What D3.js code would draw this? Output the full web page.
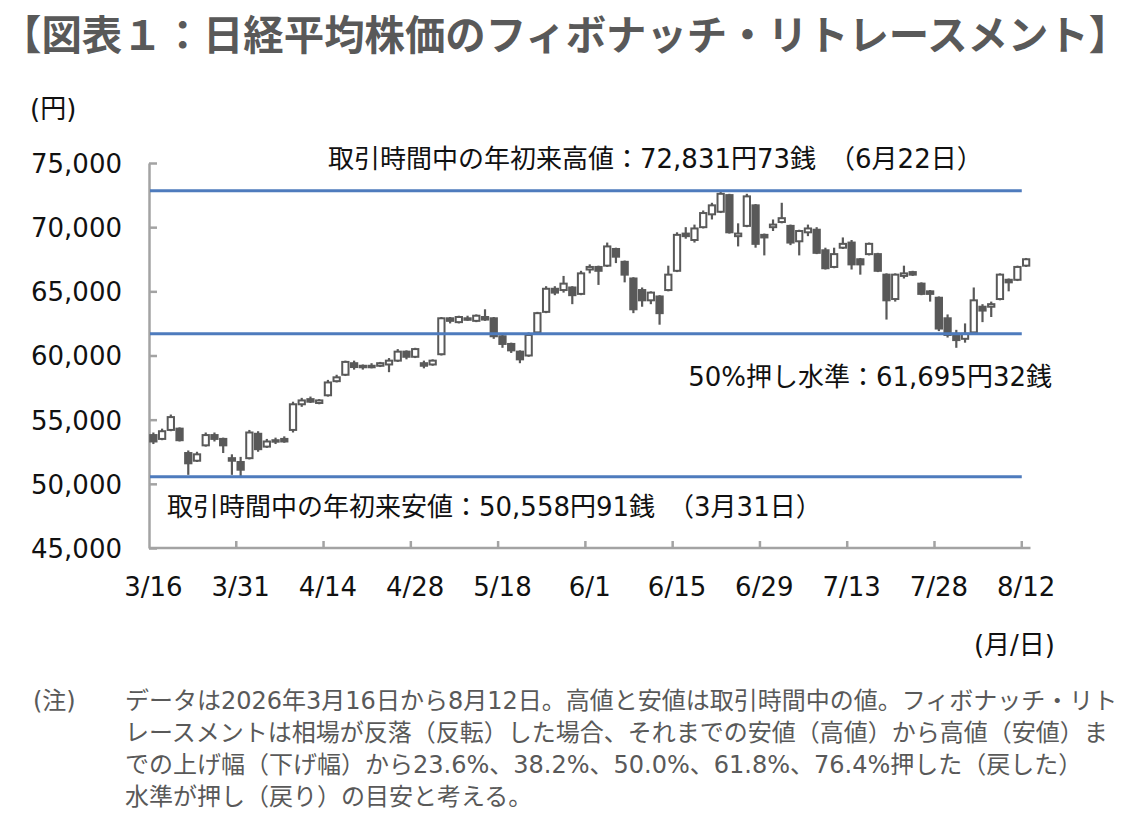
<!DOCTYPE html>
<html lang="ja">
<head>
    <meta charset="UTF-8">
    <title>日経平均株価のフィボナッチ・リトレースメント</title>
    <style>
        body {
            margin: 0;
            background: #fff;
            font-family: 'DejaVu Sans', 'Noto Sans CJK JP', sans-serif;
        }
        .axis path,
        .axis line {
            stroke: #a3a3a3;
            stroke-width: 2.5px;
        }
        .title {
            font: bold 40.4px 'Noto Sans CJK JP', sans-serif;
            fill: #595959;
        }
        .label {
            font: 26px 'DejaVu Sans', 'Noto Sans CJK JP', sans-serif;
            fill: #111;
        }
        .note {
            font: 24px 'DejaVu Sans', 'Noto Sans CJK JP', sans-serif;
            fill: #595959;
        }
    </style>
</head>
<body>
<div id="chart"></div>

<script src="https://d3js.org/d3.v7.min.js"></script>
<script>
    // 営業日（3/16〜8/12）
    const dates = [
        "3/16","3/17","3/18","3/19","3/23","3/24","3/25","3/26","3/27","3/30",
        "3/31","4/1","4/2","4/3","4/6","4/7","4/8","4/9","4/10","4/13",
        "4/14","4/15","4/16","4/17","4/20","4/21","4/22","4/23","4/24","4/27",
        "4/28","4/30","5/1","5/7","5/8","5/11","5/12","5/13","5/14","5/15",
        "5/18","5/19","5/20","5/21","5/22","5/25","5/26","5/27","5/28","5/29",
        "6/1","6/2","6/3","6/4","6/5","6/8","6/9","6/10","6/11","6/12",
        "6/15","6/16","6/17","6/18","6/19","6/22","6/23","6/24","6/25","6/26",
        "6/29","6/30","7/1","7/2","7/3","7/6","7/7","7/8","7/9","7/10",
        "7/13","7/14","7/15","7/16","7/17","7/21","7/22","7/23","7/24","7/27",
        "7/28","7/29","7/30","7/31","8/3","8/4","8/5","8/6","8/7","8/10",
        "8/12"
    ];

    const opens = [
        53800,53500,54200,54300,52400,51800,53000,53800,53500,52000,
        51700,52000,53900,52900,53300,53500,54200,56200,56600,56300,
        56900,58000,58500,59400,59100,59200,59200,59300,59600,60300,
        59900,59400,59300,60100,62900,62600,62900,62700,63000,62900,
        61500,60900,60300,60000,61800,63400,65200,65100,65300,64800,
        66700,66900,67000,68300,67300,66000,65100,64300,64600,65100,
        66600,69500,69000,70000,71000,71200,72500,69300,70100,71700,
        69400,70000,70400,70100,68900,69600,69800,68200,66900,68400,
        68800,67500,67900,67900,66300,64400,66200,66500,65600,65000,
        64500,62900,61700,61300,61800,63800,63800,64400,65900,65900,
        67000
    ];
    const highs = [
        54000,54300,55400,54400,52600,52500,54000,54000,53600,52300,
        52100,54200,54100,53500,53600,53700,56400,56700,56800,56600,
        58100,58500,59600,59600,59300,59400,59500,59800,60500,60400,
        60600,59600,59700,63000,63000,63100,63100,63200,63600,63000,
        61700,61000,60400,61800,63400,65400,65400,66200,65400,66600,
        67100,67000,68800,68400,67400,66100,65300,65000,64700,67000,
        69600,70000,70200,71300,71900,72831.73,72600,70300,72600,71800,
        69500,70600,71900,70200,69800,70200,70000,68400,68400,69200,
        69000,67600,68800,68000,66400,66400,67000,66600,65700,65100,
        64600,63200,62000,62500,65300,64000,64200,66400,66000,67000,
        67600
    ];
    const lows = [
        53100,53400,54100,53300,50700,51700,52900,53300,52400,50700,
        50558.91,51900,52500,52800,53100,53200,54000,56000,56300,56200,
        56800,57900,58400,58900,58900,59000,59100,58700,59500,59700,
        59800,59000,59200,60000,62500,62500,62700,62600,62700,61300,
        60600,60200,59400,59900,61700,63300,64700,64900,64000,64700,
        66400,65500,66900,67200,65700,63300,63800,64000,62400,65000,
        66500,69100,68800,69900,70600,71100,69500,68500,70000,68400,
        67800,69700,70300,68600,67800,69300,67900,66700,66800,68300,
        66700,66300,67800,66500,62800,64200,66000,66200,64700,64200,
        61900,61400,60600,61000,61600,62600,63000,64300,65000,65800,
        66900
    ];
    const closes = [
        53300,54100,55200,53400,51600,52300,53800,53500,53000,51800,
        51100,54000,52700,53300,53400,53300,56200,56500,56400,56500,
        57900,58300,59500,59100,59200,59100,59400,59600,60300,59900,
        60500,59200,59600,62900,62700,63000,62800,63100,62800,61500,
        60900,60400,59700,61600,63300,65200,64900,65600,64700,66400,
        66900,66600,68500,67700,66300,63600,64300,64900,63300,66300,
        69400,69300,69900,71100,71700,72600,69600,69500,72400,68700,
        69200,70200,70700,68800,69700,69900,68000,66800,67900,68700,
        67100,67100,68700,66600,64300,66300,66400,66300,64800,64800,
        62100,61600,61200,61700,64300,63500,64000,66300,65700,66900,
        67500
    ];

    // フィボナッチ水準
    const levelValues = [72831.73, 61695.32, 50558.91];
    const levelLabels = [
        "取引時間中の年初来高値：72,831円73銭　（6月22日）",
        "50%押し水準：61,695円32銭",
        "取引時間中の年初来安値：50,558円91銭　（3月31日）"
    ];

    const yTicks = [45000, 50000, 55000, 60000, 65000, 70000, 75000];
    const xTickLabels = dates.filter((d, i) => i % 10 === 0);

    const titleText = "【図表１：日経平均株価のフィボナッチ・リトレースメント】";
    const noteLines = [
        "データは2026年3月16日から8月12日。高値と安値は取引時間中の値。フィボナッチ・リト",
        "レースメントは相場が反落（反転）した場合、それまでの安値（高値）から高値（安値）ま",
        "での上げ幅（下げ幅）から23.6%、38.2%、50.0%、61.8%、76.4%押した（戻した）",
        "水準が押し（戻り）の目安と考える。"
    ];

    const W = 1146, H = 839;
    const plot = {left: 149, right: 1030.5, top: 163, bottom: 548};
    const candleColor = "#595959";
    const lineColor = "#4e7bbd";
    const tickFont = "'DejaVu Sans', 'Noto Sans CJK JP', sans-serif";

    const svg = d3.select("#chart")
      .append("svg")
        .attr("width", W)
        .attr("height", H);

    const data = dates.map((d, i) => ({
        date: d, open: opens[i], high: highs[i], low: lows[i], close: closes[i]
    }));

    const x = d3.scaleBand()
        .domain(dates)
        .range([plot.left, plot.right])
        .padding(0);

    const y = d3.scaleLinear()
        .domain([45000, 75000])
        .range([plot.bottom, plot.top]);

    // タイトル
    svg.append("text")
        .attr("class", "title")
        .attr("x", 1)
        .attr("y", 50)
        .text(titleText);

    // 単位
    svg.append("text").attr("class", "label")
        .attr("x", 30).attr("y", 118)
        .text("(円)");
    svg.append("text").attr("class", "label")
        .attr("x", 1055).attr("y", 654)
        .attr("text-anchor", "end")
        .text("(月/日)");

    // Y軸（目盛りは内向き）
    const yAxis = svg.append("g")
        .attr("class", "axis")
        .attr("transform", `translate(${plot.left},0)`)
        .call(d3.axisLeft(y)
            .tickValues(yTicks)
            .tickSize(-8)
            .tickSizeOuter(0)
            .tickPadding(27)
            .tickFormat(d3.format(",")));
    yAxis.selectAll("text")
        .attr("dy", "0.36em")
        .attr("fill", "#111")
        .style("font-family", tickFont)
        .style("font-size", "26px");

    // X軸：ラベルは日付の中央、目盛りは区切り位置
    const xAxis = svg.append("g")
        .attr("class", "axis")
        .attr("transform", `translate(0,${plot.bottom})`)
        .call(d3.axisBottom(x)
            .tickValues(xTickLabels)
            .tickSize(0)
            .tickSizeOuter(0)
            .tickPadding(30));
    xAxis.selectAll(".tick line").remove();
    xAxis.selectAll("text")
        .attr("fill", "#111")
        .style("font-family", tickFont)
        .style("font-size", "26px");
    xAxis.select(".domain").attr("d", `M${plot.left},0H${plot.right}`);
    xAxis.selectAll(".xtick")
        .data(xTickLabels.slice(1))
        .join("line")
        .attr("class", "xtick")
        .attr("x1", d => x(d)).attr("x2", d => x(d))
        .attr("y1", 0).attr("y2", -7);

    // ローソク足
    const bw = x.bandwidth() * 0.72;
    const candles = svg.append("g").selectAll("g")
        .data(data)
        .join("g");

    candles.append("line")
        .attr("x1", d => x(d.date) + x.bandwidth() / 2)
        .attr("x2", d => x(d.date) + x.bandwidth() / 2)
        .attr("y1", d => y(d.high))
        .attr("y2", d => y(d.low))
        .attr("stroke", candleColor)
        .attr("stroke-width", 2.2);

    candles.append("rect")
        .attr("x", d => x(d.date) + x.bandwidth() / 2 - bw / 2)
        .attr("y", d => y(Math.max(d.open, d.close)))
        .attr("width", bw)
        .attr("height", d => Math.max(1.5, Math.abs(y(d.open) - y(d.close))))
        .attr("fill", d => d.close >= d.open ? "#fff" : candleColor)
        .attr("stroke", candleColor)
        .attr("stroke-width", 2);

    // 水準線
    const lastX = x(dates[dates.length - 1]);
    svg.append("g").selectAll("line")
        .data(levelValues)
        .join("line")
        .attr("x1", plot.left + 1)
        .attr("x2", lastX)
        .attr("y1", d => y(d))
        .attr("y2", d => y(d))
        .attr("stroke", lineColor)
        .attr("stroke-width", 3);

    // 水準ラベル
    svg.append("text").attr("class", "label")
        .attr("x", 328).attr("y", y(levelValues[0]) - 23)
        .text(levelLabels[0]);
    svg.append("text").attr("class", "label")
        .attr("x", 1052).attr("y", y(levelValues[1]) + 52)
        .attr("text-anchor", "end")
        .text(levelLabels[1]);
    svg.append("text").attr("class", "label")
        .attr("x", 167).attr("y", y(levelValues[2]) + 39)
        .text(levelLabels[2]);

    // 注記
    svg.append("text").attr("class", "note")
        .attr("x", 33).attr("y", 709)
        .text("(注)");
    svg.append("g").selectAll("text")
        .data(noteLines)
        .join("text")
        .attr("class", "note")
        .attr("x", 125)
        .attr("y", (d, i) => 709 + i * 32)
        .text(d => d);
</script>
</body>
</html>
